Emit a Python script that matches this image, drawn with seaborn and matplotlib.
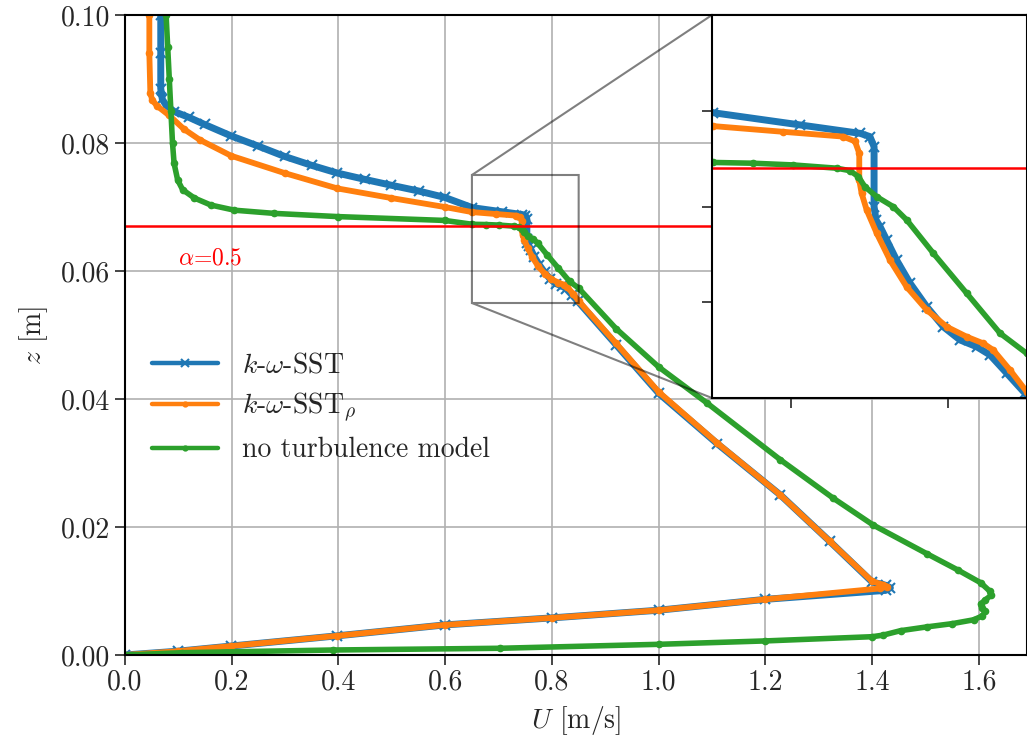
import numpy as np
import pandas as pd
import matplotlib
matplotlib.use("Agg")
import matplotlib.pyplot as plt
import seaborn as sns
from matplotlib.ticker import FormatStrFormatter

# ---------------- data ----------------
sst_U = [0.067, 0.067, 0.067, 0.070, 0.077, 0.0925, 0.120, 0.149, 0.199, 0.250, 0.299, 0.350,
         0.398, 0.450, 0.499, 0.550, 0.599, 0.6506, 0.7059, 0.744, 0.7503, 0.7529, 0.7529,
         0.7541, 0.7567, 0.7609, 0.7672, 0.7757, 0.7863, 0.7969, 0.8075, 0.818, 0.8265,
         0.8371, 0.8487, 0.920, 1.000, 1.110, 1.228, 1.320, 1.400, 1.425, 1.434, 1.425,
         1.200, 1.000, 0.800, 0.599, 0.398, 0.199, 0.100, 0.000]
sst_z = [0.1000, 0.0940, 0.0885, 0.0868, 0.0859, 0.0849, 0.0840, 0.0829, 0.0811, 0.0795, 0.0779, 0.0765,
         0.0753, 0.0743, 0.0734, 0.0725, 0.0715, 0.0699, 0.06926, 0.06882, 0.06865, 0.06812, 0.0650,
         0.0643, 0.06395, 0.06325, 0.0622, 0.0610, 0.05977, 0.05872, 0.05803, 0.05768, 0.05725,
         0.0563, 0.05525, 0.0485, 0.0409, 0.0330, 0.0250, 0.0178, 0.0114, 0.0109, 0.0105, 0.0101,
         0.0087, 0.0070, 0.0058, 0.0047, 0.0030, 0.0014, 0.0006, 0.0000]

sstr_U = [0.0456, 0.0456, 0.0475, 0.051, 0.060, 0.083, 0.110, 0.140, 0.199, 0.299, 0.398, 0.499,
          0.599, 0.6506, 0.6953, 0.7334, 0.7408, 0.7435, 0.7435, 0.7450, 0.7482, 0.7546,
          0.763, 0.7736, 0.7863, 0.7990, 0.8117, 0.8223, 0.8286, 0.8392, 0.8498, 0.920,
          1.000, 1.110, 1.228, 1.320, 1.400, 1.420, 1.428, 1.415, 1.200, 1.000, 0.800,
          0.599, 0.398, 0.199, 0.100, 0.000]
sstr_z = [0.1000, 0.0940, 0.0878, 0.0867, 0.0858, 0.0843, 0.0822, 0.0805, 0.0780, 0.0753, 0.0729, 0.0714,
          0.0700, 0.0692, 0.0689, 0.06865, 0.0684, 0.06778, 0.06638, 0.06569, 0.06482, 0.0636,
          0.0622, 0.0608, 0.0596, 0.05872, 0.0582, 0.05785, 0.0575, 0.05646, 0.05533, 0.0487,
          0.0411, 0.0331, 0.0250, 0.0178, 0.0115, 0.0110, 0.0107, 0.0104, 0.0087, 0.0070, 0.0058,
          0.0047, 0.0030, 0.0014, 0.0006, 0.0000]

lam_U = [0.077, 0.080, 0.083, 0.086, 0.089, 0.092, 0.0987, 0.108, 0.130, 0.161, 0.205, 0.280,
         0.399, 0.599, 0.6506, 0.6762, 0.7016, 0.7292, 0.7376, 0.7429, 0.7471, 0.7546, 0.7651,
         0.7736, 0.7905, 0.8117, 0.8329, 0.8498, 0.920, 1.000, 1.090, 1.228, 1.327, 1.402,
         1.503, 1.560, 1.603, 1.620, 1.622, 1.612, 1.603, 1.605, 1.612, 1.606, 1.590, 1.550,
         1.503, 1.453, 1.420, 1.400, 1.200, 1.000, 0.702, 0.389, 0.107, 0.000]
lam_z = [0.1000, 0.0950, 0.0900, 0.0850, 0.0800, 0.0768, 0.0742, 0.0727, 0.0714, 0.0703, 0.0695, 0.0690,
         0.0685, 0.0679, 0.0673, 0.06726, 0.06717, 0.0670, 0.06687, 0.06656, 0.06603, 0.06551, 0.06499,
         0.0643, 0.06256, 0.06047, 0.05838, 0.05733, 0.0510, 0.0450, 0.0394, 0.0305, 0.0245, 0.0203,
         0.0158, 0.0133, 0.0113, 0.0100, 0.0093, 0.0086, 0.0080, 0.0074, 0.0068, 0.0061, 0.0055, 0.0049,
         0.0044, 0.0038, 0.0031, 0.00286, 0.0022, 0.00167, 0.00105, 0.00078, 0.00036, 0.0000]

labels = [r"$k$-$\omega$-SST", r"$k$-$\omega$-SST$_\rho$", "no turbulence model"]
alpha_level = 0.067
x_ticks = [0.0, 0.2, 0.4, 0.6, 0.8, 1.0, 1.2, 1.4, 1.6]
y_ticks = [0.00, 0.02, 0.04, 0.06, 0.08, 0.10]

# ---------------- style ----------------
sns.set_style("white")
plt.rcParams.update({
    "font.family": "serif",
    "font.serif": ["cmr10", "DejaVu Serif"],
    "mathtext.fontset": "cm",
    "axes.unicode_minus": False,
    "axes.formatter.use_mathtext": True,
    "font.size": 20,
})

fig = plt.figure(figsize=(10.27, 7.47), dpi=100)
ax = fig.add_axes([125 / 1027, 92 / 747, 902 / 1027, 640 / 747])

series = [
    (sst_U, sst_z, "#1f77b4", "x", 6.5, 5.0),
    (sstr_U, sstr_z, "#ff7f0e", ".", 8, 4.2),
    (lam_U, lam_z, "#2ca02c", ".", 8, 4.0),
]


def draw(a, legend):
    for (U, z, c, m, ms, lw), lab in zip(series, labels):
        df = pd.DataFrame({"U": U, "z": z})
        sns.lineplot(data=df, x="U", y="z", sort=False, estimator=None, ax=a,
                     color=c, lw=lw, marker=m, markersize=ms, markeredgecolor=c,
                     markeredgewidth=1.5, label=lab if legend else None,
                     solid_capstyle="round", solid_joinstyle="round")
    a.axhline(alpha_level, color="red", lw=1.8)


draw(ax, True)
ax.set_xlim(0, 1.69)
ax.set_ylim(0, 0.10)
ax.set_xticks(x_ticks)
ax.set_yticks(y_ticks)
ax.xaxis.set_major_formatter(FormatStrFormatter("%.1f"))
ax.yaxis.set_major_formatter(FormatStrFormatter("%.2f"))
ax.grid(True, color="#b0b0b0", lw=1.2)
ax.tick_params(direction="out", length=7, width=1.2, labelsize=20, bottom=True, left=True)
for s in ax.spines.values():
    s.set_linewidth(1.5)
    s.set_color("black")
ax.set_xlabel(r"$U$ [m/s]", fontsize=20, labelpad=6)
ax.set_ylabel(r"$z$ [m]", fontsize=20, labelpad=8)
ax.text(0.1, 0.0620, r"$\alpha$=0.5", color="red", fontsize=17, ha="left", va="center")

leg = ax.legend(loc="center left", bbox_to_anchor=(0.0296, 0.386), frameon=False,
                borderpad=0, borderaxespad=0, handlelength=2.4, handletextpad=0.85,
                labelspacing=0.45, fontsize=20)
for h in leg.get_lines():
    h.set_linewidth(3.2)
    h.set_markersize(6)

# ---------------- inset ----------------
axins = fig.add_axes([712 / 1027, (747 - 398) / 747, 315 / 1027, 383 / 747])
draw(axins, False)
axins.set_xlim(0.65, 0.85)
axins.set_ylim(0.055, 0.075)
axins.set_xticks([0.7, 0.8])
axins.set_yticks([0.06, 0.065, 0.07])
axins.set_xticklabels([])
axins.set_yticklabels([])
axins.set_xlabel("")
axins.set_ylabel("")
axins.grid(False)
axins.tick_params(direction="out", length=7, width=1.2, bottom=True, left=True)
for s in axins.spines.values():
    s.set_linewidth(1.5)
    s.set_color("black")
if axins.get_legend() is not None:
    axins.get_legend().remove()

ax.indicate_inset_zoom(axins, edgecolor="black", alpha=0.5, lw=1.5)

fig.savefig("out.png", dpi=100)
